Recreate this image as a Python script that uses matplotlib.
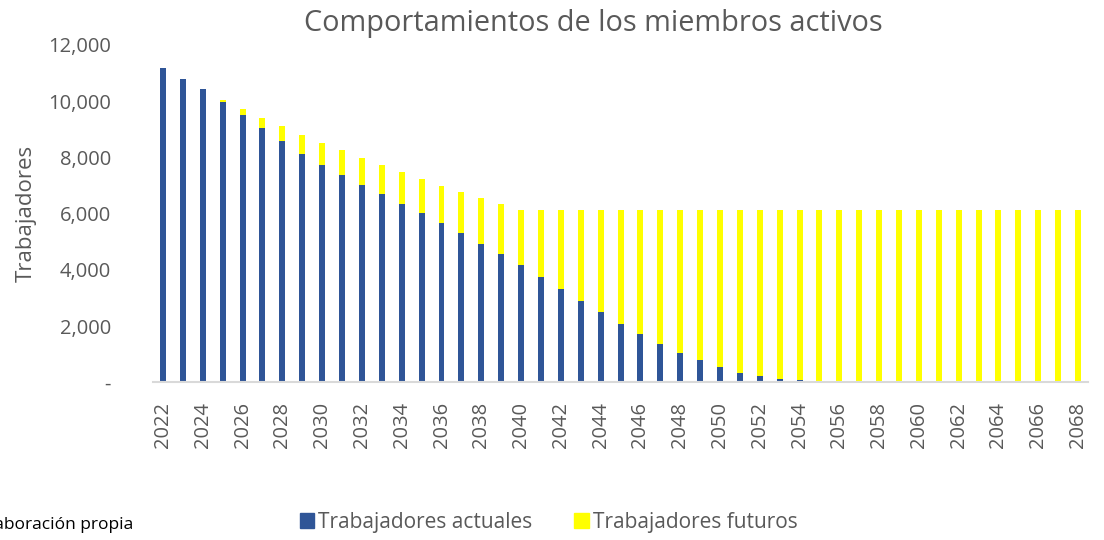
import matplotlib.pyplot as plt
from matplotlib.patches import Patch
from matplotlib.ticker import FuncFormatter

plt.rcParams['font.family'] = ['Open Sans', 'DejaVu Sans']

years = list(range(2022, 2069))
actuales = [11170, 10805, 10430, 9990, 9505, 9040, 8570, 8130, 7740, 7375,
            7005, 6685, 6355, 6010, 5670, 5300, 4935, 4580, 4190, 3765,
            3340, 2910, 2495, 2095, 1730, 1385, 1065, 795, 550, 345,
            215, 140, 75] + [0] * 14
futuros = [0, 0, 0, 60, 225, 370, 540, 675, 780, 875,
           985, 1045, 1125, 1220, 1325, 1470, 1620, 1765, 1940, 2365,
           2790, 3220, 3635, 4035, 4400, 4745, 5065, 5335, 5580, 5785,
           5915, 5990, 6055] + [6130] * 14

azul = '#2F5597'
amarillo = '#FFFF00'
gris = '#595959'

fig = plt.figure(figsize=(11.04, 5.4), dpi=100)
ax = fig.add_axes([0.1383, 0.2917, 0.847, 0.625])

x = range(len(years))
ax.bar(x, actuales, width=0.3, color=azul)
ax.bar(x, futuros, width=0.3, bottom=actuales, color=amarillo)

ax.set_xlim(-0.52, len(years) - 0.51)
ax.set_ylim(0, 12000)
ax.set_yticks(range(0, 12001, 2000))
ax.yaxis.set_major_formatter(FuncFormatter(lambda v, p: '-' if v == 0 else f'{int(v):,}'))
ax.set_xticks(list(x)[::2])
ax.set_xticklabels(years[::2], rotation=90)

ax.tick_params(axis='both', length=0, labelsize=14.5, labelcolor=gris)
ax.tick_params(axis='y', pad=30)
ax.tick_params(axis='x', pad=14)

for s in ['top', 'right', 'left']:
    ax.spines[s].set_visible(False)
ax.spines['bottom'].set_color('#D9D9D9')
ax.spines['bottom'].set_linewidth(1.5)

ax.set_ylabel('Trabajadores', fontsize=16, color=gris, labelpad=8)
fig.text(0.537, 0.957, 'Comportamientos de los miembros activos',
         fontsize=20.8, color=gris, ha='center', va='center')

handles = [Patch(color=azul, label='Trabajadores actuales'),
           Patch(color=amarillo, label='Trabajadores futuros')]
fig.legend(handles=handles, loc='center', bbox_to_anchor=(0.497, 0.033), ncol=2,
           frameon=False, fontsize=15, labelcolor=gris, handlelength=0.7,
           handleheight=0.7, handletextpad=0.2, columnspacing=2.0)

# fuente al pie, recortada por el borde izquierdo
fig.text(0.121, 0.028, 'Elaboración propia', fontsize=12.5, color='black',
         ha='right', va='center')

fig.savefig('out.png', dpi=100)
